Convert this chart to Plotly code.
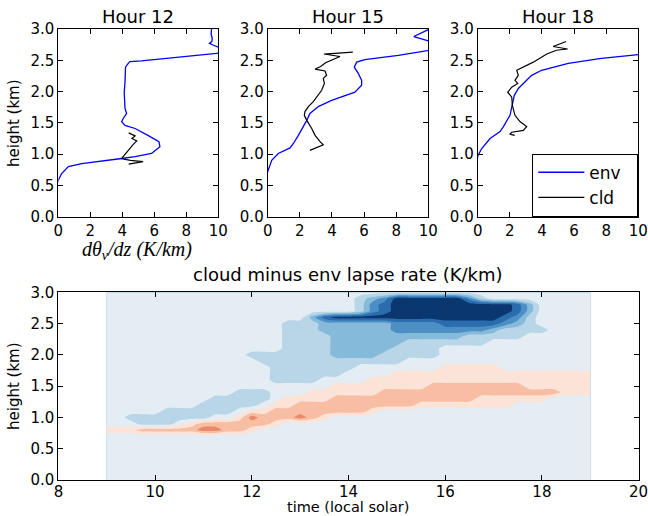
import plotly.graph_objects as go

# ---------------- profile data (x = dtheta_v/dz in K/km, h = height in km) ----------------
env12_x = [-0.1, 0.0, 0.21, 0.63, 1.46, 2.9, 3.96, 4.8, 5.83, 6.35, 6.29, 5.6, 4.8, 4.17, 3.96, 4.06, 4.27,
           4.17, 4.12, 4.17, 4.2, 4.37, 4.48, 5.2, 7.08, 10.0, 10.3, 10.3, 10.0, 9.7, 9.45, 9.6, 9.62, 9.55,
           9.6, 9.6]
env12_h = [0.5, 0.585, 0.69, 0.80, 0.85, 0.89, 0.93, 0.96, 1.01, 1.12, 1.20, 1.30, 1.41, 1.46, 1.52, 1.57,
           1.65, 1.73, 1.99, 2.15, 2.39, 2.45, 2.48, 2.49, 2.54, 2.61, 2.62, 2.70, 2.71, 2.74, 2.77, 2.80,
           2.85, 2.92, 3.0, 3.05]
cld12_x = [4.4, 4.8, 4.6, 4.9, 4.7, 4.5, 4.3, 4.05, 3.95, 4.5, 5.3, 4.4]
cld12_h = [1.34, 1.29, 1.25, 1.21, 1.16, 1.10, 1.04, 0.97, 0.93, 0.90, 0.88, 0.84]

env15_x = [-0.05, 0.0, 0.25, 0.66, 1.39, 1.6, 1.91, 2.28, 2.43, 2.63, 3.15, 3.98, 4.81, 5.43, 5.85, 5.85,
           5.64, 5.39, 5.54, 6.05, 8.13, 10.0, 10.3, 10.3, 10.0, 9.1, 10.0, 10.2]
env15_h = [0.65, 0.72, 0.90, 1.01, 1.10, 1.17, 1.30, 1.46, 1.54, 1.65, 1.76, 1.86, 1.94, 1.99, 2.10, 2.18,
           2.29, 2.39, 2.47, 2.51, 2.58, 2.66, 2.67, 2.78, 2.81, 2.88, 2.99, 3.05]
cld15_x = [5.3, 3.5, 4.5, 3.9, 3.6, 3.3, 3.1, 2.95, 3.57, 3.67, 3.46, 3.53, 3.36, 3.05, 2.84, 2.53, 2.32,
           2.28, 2.43, 2.74, 2.95, 3.26, 3.46, 2.63]
cld15_h = [2.63, 2.60, 2.56, 2.50, 2.46, 2.40, 2.37, 2.36, 2.33, 2.26, 2.21, 2.13, 2.02, 1.91, 1.84, 1.76,
           1.68, 1.62, 1.54, 1.41, 1.30, 1.20, 1.15, 1.06]

env18_x = [-0.05, 0.0, 0.25, 0.77, 1.39, 1.6, 2.01, 2.16, 2.28, 2.53, 3.36, 3.98, 5.64, 7.7, 10.0]
env18_h = [0.85, 0.97, 1.09, 1.25, 1.36, 1.44, 1.62, 1.78, 1.94, 2.05, 2.26, 2.34, 2.45, 2.53, 2.59]
cld18_x = [5.5, 4.7, 5.6, 4.9, 4.3, 3.46, 2.43, 2.53, 2.32, 2.49, 2.12, 1.87, 2.12, 2.16, 2.32, 2.63,
           3.05, 2.84, 2.12, 2.0, 2.3]
cld18_h = [2.80, 2.72, 2.68, 2.66, 2.60, 2.47, 2.34, 2.26, 2.18, 2.13, 2.07, 1.99, 1.91, 1.78, 1.62, 1.52,
           1.44, 1.38, 1.35, 1.32, 1.30]

panel_titles = ["Hour 12", "Hour 15", "Hour 18"]
legend_names = ["env", "cld"]

# ---------------- contour data: cloud minus env lapse rate (K/km) ----------------
times = [9.0, 9.25, 9.5, 9.75, 10.0, 10.25, 10.5, 10.75, 11.0, 11.25, 11.5, 11.75, 12.0, 12.25, 12.5,
         12.75, 13.0, 13.25, 13.5, 13.75, 14.0, 14.25, 14.5, 14.75, 15.0, 15.25, 15.5, 15.75, 16.0, 16.25,
         16.5, 16.75, 17.0, 17.25, 17.5, 17.75, 18.0, 18.25, 18.5, 18.75, 19.0]
heights = [0.0, 0.1, 0.2, 0.3, 0.4, 0.5, 0.6, 0.7, 0.8, 0.9, 1.0, 1.1, 1.2, 1.3, 1.4, 1.5, 1.6, 1.7, 1.8,
           1.9, 2.0, 2.1, 2.2, 2.3, 2.4, 2.5, 2.6, 2.7, 2.8, 2.9, 3.0]
# rows from 3.0 km (top) down to 0.0 km; one character per time column
# 5..1 -> -5..-1, '.' -> 0, p -> +1, s -> +2, r -> +3
lapse_rows = [
    ".........................................",  # 3.0
    ".....................12355555531.........",  # 2.9
    ".....................134555555555542.....",  # 2.8
    ".....................134555555555542.....",  # 2.7
    ".................2455555555555555431.....",  # 2.6
    "...............111222222333344444321.....",  # 2.5
    "...............1112222223333333321111....",  # 2.4
    "...............11112222222222211111......",  # 2.3
    "...............11112222221111111.........",  # 2.2
    "...............1111222221111............",   # 2.1
    "............1111111222211111..............",  # 2.0
    ".............111111111111................",  # 1.9
    "..............1111111.......ppppp........",  # 1.8
    "..............111111....ppppppppppppppppp",  # 1.7
    "..............1111....ppppppppppppppppppp",  # 1.6
    "...................ppppppppsssssssspppppp",  # 1.5
    "...........111...ppppppsssssssssssssssppp",  # 1.4
    ".........11111.ppppsssssssssssspppppp.....",  # 1.3
    "........11111.ppsssssssssspppppppp.......",  # 1.2
    ".....111111.ppssssssssp..................",  # 1.1
    "..1111111..prsssrsp......................",  # 1.0
    "...111.pssssssp..........................",  # 0.9
    "pppsssssrrssp............................",  # 0.8
    ".........................................",  # 0.7
    ".........................................",  # 0.6
    ".........................................",  # 0.5
    ".........................................",  # 0.4
    ".........................................",  # 0.3
    ".........................................",  # 0.2
    ".........................................",  # 0.1
    ".........................................",  # 0.0
]
level_values = {'5': -5, '4': -4, '3': -3, '2': -2, '1': -1, '.': 0, 'p': 1, 's': 2, 'r': 3}
level_colors = ["#0a3770", "#2b6cae", "#4b8fc4", "#86badb", "#b8d6e8",
                "#e4edf3", "#fce3d8", "#f8bea3", "#e98a6e"]

ncol = len(times)
z = []
for row in reversed(lapse_rows):
    r = (row + "." * ncol)[:ncol]
    z.append([level_values[c] for c in r])

# ---------------- figure ----------------
W, H = 648, 516
def px_x(a, b):
    return [a / W, b / W]
def px_y(top, bottom):
    return [1 - bottom / H, 1 - top / H]

font = "DejaVu Sans"
fig = go.Figure()
pad = "\u00a0\u00a0"

profiles = [(env12_x, env12_h, cld12_x, cld12_h),
            (env15_x, env15_h, cld15_x, cld15_h),
            (env18_x, env18_h, cld18_x, cld18_h)]
for k, (ex, eh, cx, ch) in enumerate(profiles):
    ax = "" if k == 0 else str(k + 1)
    fig.add_trace(go.Scatter(x=ex, y=eh, mode="lines", line=dict(color="#0000ff", width=1.3),
                             name=legend_names[0] + pad, showlegend=(k == 2),
                             xaxis="x" + ax, yaxis="y" + ax))
    fig.add_trace(go.Scatter(x=cx, y=ch, mode="lines", line=dict(color="black", width=1.2),
                             name=legend_names[1] + pad, showlegend=(k == 2),
                             xaxis="x" + ax, yaxis="y" + ax))

fig.add_trace(go.Contour(
    x=times, y=heights, z=z, xaxis="x4", yaxis="y4",
    autocontour=False, contours=dict(start=-4.5, end=2.5, size=1, coloring="fill", showlines=False),
    colorscale=[[i / 8, c] for i, c in enumerate(level_colors)],
    showscale=False, line=dict(width=0, smoothing=0.6), hoverinfo="skip"))

axis_common = dict(showline=True, linecolor="black", linewidth=1, mirror="allticks",
                   ticks="inside", ticklen=5, tickcolor="black", tickwidth=1,
                   showgrid=False, zeroline=False, automargin=False, ticklabeloverflow="allow",
                   tickfont=dict(family=font, size=15, color="black"))

top_x = [px_x(58.3, 218.3), px_x(267.7, 428.3), px_x(477.7, 638.3)]
top_y = px_y(29, 216.7)
layout = dict(width=W, height=H, margin=dict(l=0, r=0, t=0, b=0, pad=0, autoexpand=False),
              paper_bgcolor="white", plot_bgcolor="white",
              font=dict(family=font, color="black"))
for k in range(3):
    sx = "xaxis" if k == 0 else "xaxis%d" % (k + 1)
    sy = "yaxis" if k == 0 else "yaxis%d" % (k + 1)
    an = "x" if k == 0 else "x%d" % (k + 1)
    ayn = "y" if k == 0 else "y%d" % (k + 1)
    layout[sx] = dict(domain=top_x[k], range=[0, 10], tickvals=[0, 2, 4, 6, 8, 10], anchor=ayn,
                      **axis_common)
    layout[sy] = dict(domain=top_y, range=[0, 3], tickvals=[0, 0.5, 1, 1.5, 2, 2.5, 3],
                      tickformat=".1f", anchor=an, **axis_common)

layout["xaxis4"] = dict(domain=px_x(58.4, 638.6), range=[8, 20], tickvals=[8, 10, 12, 14, 16, 18, 20],
                        anchor="y4", ticklabelstandoff=-2, **axis_common)
layout["yaxis4"] = dict(domain=px_y(292.3, 480), range=[0, 3], tickvals=[0, 0.5, 1, 1.5, 2, 2.5, 3],
                        tickformat=".1f", anchor="x4", **axis_common)

layout["legend"] = dict(x=638.3 / W, xanchor="right", y=1 - 216.7 / H, yanchor="bottom",
                        bordercolor="black", borderwidth=1, bgcolor="white",
                        font=dict(family=font, size=17, color="black"), tracegroupgap=0,
                        itemwidth=46)

ann = []
def text(x, y, s, size, yanchor="middle", **kw):
    ann.append(dict(x=x / W, y=1 - y / H, xref="paper", yref="paper", text=s, showarrow=False,
                    font=dict(family=kw.pop("family", font), size=size, color="black"),
                    xanchor="center", yanchor=yanchor, borderpad=0, **kw))

centers = [(58.3 + 218.3) / 2, (267.7 + 428.3) / 2, (477.7 + 638.3) / 2]
for c, t in zip(centers, panel_titles):
    text(c, 16, t, 18)
text(137, 250, "<i>dθ<sub>v</sub>/dz (K/km)</i>", 20, family="Liberation Serif")
text(14, 123, "height (km)", 15, textangle=-90)
text(348, 274, "cloud minus env lapse rate (K/km)", 18)
text(348, 515.5, "time (local solar)", 14.5, yanchor="bottom")
text(14, 386, "height (km)", 15, textangle=-90)
layout["annotations"] = ann

fig.update_layout(**layout)
fig.write_html("out.html")
